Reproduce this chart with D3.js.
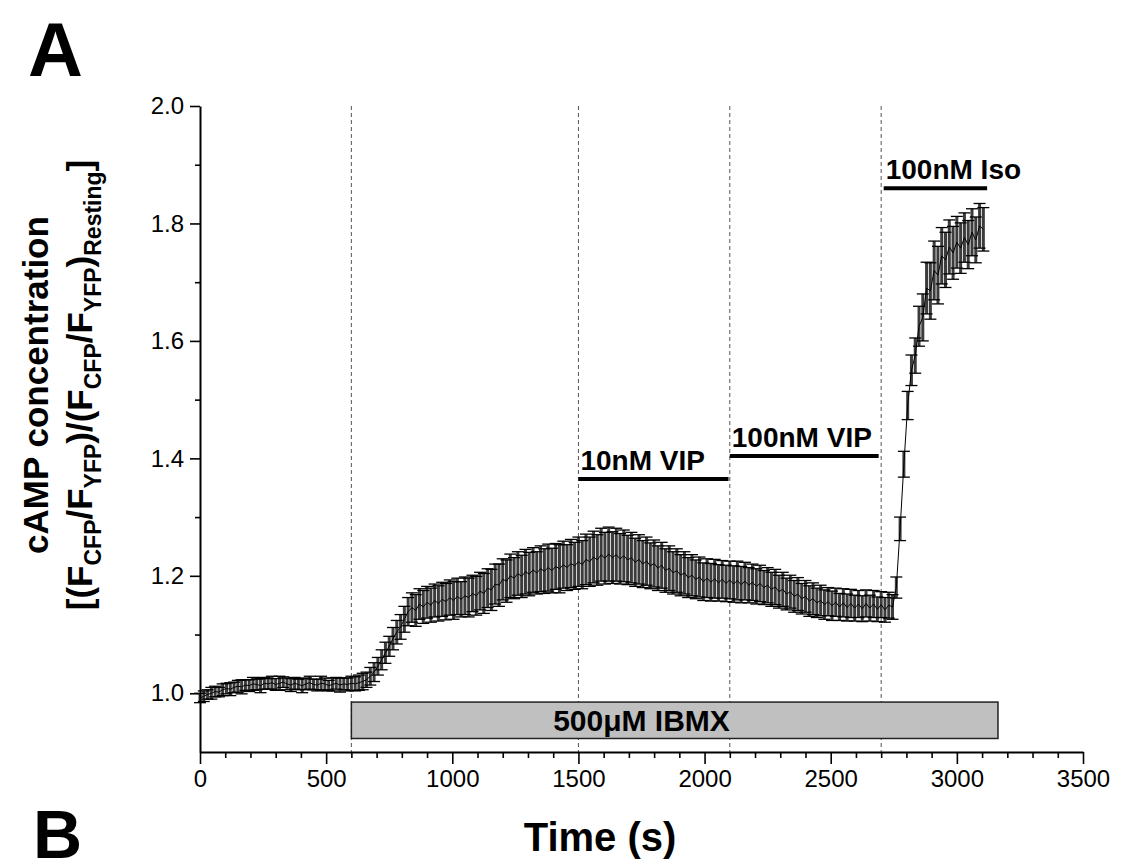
<!DOCTYPE html>
<html>
<head>
<meta charset="utf-8">
<script src="https://cdn.jsdelivr.net/npm/d3@7"></script>
<style>
  body { margin: 0; background: #fff; }
  svg text { font-family: "Liberation Sans", Arial, sans-serif; }
</style>
</head>
<body>
<div id="chart"></div>
<script>
// sampling interval of the recording (s)
var sampleStep = 15;

// mean FRET ratio, one value per sample
var meanRatio = [
  0.992,0.995,0.998,1.000,1.003,1.002,1.006,1.008,1.007,1.010,
  1.012,1.011,1.014,1.013,1.016,1.015,1.013,1.017,1.016,1.018,
  1.015,1.017,1.019,1.016,1.014,1.017,1.015,1.013,1.016,1.018,
  1.015,1.014,1.017,1.016,1.013,1.015,1.017,1.014,1.016,1.015,
  1.017,1.016,1.018,1.020,1.023,1.029,1.036,1.046,1.057,1.069,
  1.080,1.093,1.104,1.113,1.126,1.139,1.146,1.141,1.152,1.147,
  1.155,1.150,1.158,1.153,1.160,1.156,1.163,1.158,1.165,1.160,
  1.166,1.163,1.170,1.166,1.174,1.170,1.179,1.176,1.186,1.184,
  1.194,1.191,1.200,1.196,1.204,1.199,1.207,1.203,1.210,1.205,
  1.212,1.208,1.214,1.209,1.216,1.212,1.219,1.214,1.221,1.217,
  1.224,1.219,1.228,1.224,1.232,1.227,1.236,1.230,1.237,1.231,
  1.236,1.229,1.234,1.227,1.231,1.223,1.228,1.220,1.225,1.217,
  1.221,1.213,1.218,1.209,1.213,1.205,1.209,1.201,1.205,1.197,
  1.201,1.194,1.198,1.190,1.196,1.189,1.195,1.188,1.194,1.187,
  1.193,1.186,1.192,1.185,1.191,1.184,1.189,1.182,1.187,1.180,
  1.184,1.177,1.181,1.173,1.177,1.169,1.173,1.165,1.169,1.161,
  1.165,1.157,1.161,1.154,1.158,1.151,1.156,1.149,1.155,1.147,
  1.154,1.146,1.153,1.145,1.152,1.144,1.153,1.145,1.152,1.143,
  1.151,1.142,1.150,1.147,1.180,1.280,1.390,1.490,1.550,1.575,
  1.625,1.640,1.690,1.685,1.720,1.712,1.745,1.738,1.760,1.750,
  1.768,1.758,1.776,1.764,1.785,1.772,1.796,1.790
];

// standard error, one value per sample
var semRatio = [
  0.008,0.009,0.008,0.010,0.009,0.008,0.010,0.009,0.011,0.009,
  0.010,0.012,0.009,0.010,0.011,0.009,0.012,0.010,0.009,0.011,
  0.010,0.012,0.009,0.010,0.011,0.010,0.009,0.012,0.010,0.011,
  0.009,0.010,0.012,0.010,0.009,0.011,0.010,0.012,0.010,0.011,
  0.012,0.012,0.013,0.014,0.013,0.015,0.016,0.015,0.017,0.018,
  0.017,0.019,0.020,0.021,0.022,0.024,0.025,0.027,0.026,0.028,
  0.027,0.029,0.028,0.030,0.029,0.031,0.030,0.032,0.031,0.030,
  0.032,0.033,0.031,0.033,0.032,0.034,0.033,0.035,0.034,0.036,
  0.035,0.036,0.037,0.035,0.037,0.036,0.038,0.037,0.038,0.036,
  0.039,0.038,0.040,0.038,0.039,0.041,0.040,0.039,0.041,0.040,
  0.042,0.041,0.043,0.042,0.044,0.043,0.045,0.044,0.046,0.044,
  0.045,0.043,0.044,0.042,0.043,0.041,0.042,0.040,0.041,0.039,
  0.040,0.038,0.039,0.037,0.038,0.036,0.037,0.035,0.036,0.034,
  0.035,0.033,0.034,0.032,0.033,0.032,0.033,0.031,0.032,0.031,
  0.032,0.031,0.033,0.031,0.032,0.030,0.031,0.030,0.031,0.029,
  0.030,0.029,0.030,0.028,0.029,0.027,0.028,0.027,0.028,0.026,
  0.027,0.026,0.027,0.025,0.026,0.025,0.024,0.025,0.024,0.023,
  0.024,0.023,0.024,0.022,0.023,0.022,0.023,0.022,0.023,0.021,
  0.022,0.021,0.022,0.021,0.018,0.020,0.022,0.024,0.026,0.030,
  0.034,0.040,0.044,0.048,0.050,0.049,0.048,0.047,0.046,0.045,
  0.044,0.043,0.042,0.041,0.040,0.039,0.038,0.037
];

var xTicks = [0, 500, 1000, 1500, 2000, 2500, 3000, 3500];
var yTicks = [1.0, 1.2, 1.4, 1.6, 1.8, 2.0];
var markerTimes = [600, 1500, 2100, 2700];

// drug applications: label, start, end, bar level
var drugNames = ["10nM VIP", "100nM VIP", "100nM Iso"];
var drugStart = [1500, 2100, 2710];
var drugEnd = [2095, 2690, 3120];
var drugLevel = [1.365, 1.404, 1.860];

var ibmxName = "500\u03BCM IBMX";
var ibmxSpan = [600, 3163];
var ibmxRange = [0.923, 0.985];

var W = 1121, H = 865;
var svg = d3.select("#chart").append("svg")
  .attr("width", W)
  .attr("height", H);

var x = d3.scaleLinear().domain([0, 3500]).range([200, 1083]);
var y = d3.scaleLinear().domain([0.9, 2.0]).range([752, 106]);

var data = meanRatio.map(function(m, i) {
  return {t: i * sampleStep, m: m, e: semRatio[i]};
});

// dashed markers
svg.append("g").selectAll("line")
  .data(markerTimes)
  .enter().append("line")
  .attr("x1", function(d) { return x(d); })
  .attr("x2", function(d) { return x(d); })
  .attr("y1", y(2.0))
  .attr("y2", y(0.9))
  .attr("stroke", "#555")
  .attr("stroke-width", 1)
  .attr("stroke-dasharray", "4,3");

// IBMX box
svg.append("rect")
  .attr("x", x(ibmxSpan[0]))
  .attr("y", y(ibmxRange[1]))
  .attr("width", x(ibmxSpan[1]) - x(ibmxSpan[0]))
  .attr("height", y(ibmxRange[0]) - y(ibmxRange[1]))
  .attr("fill", "#c0c0c0")
  .attr("stroke", "#222")
  .attr("stroke-width", 1.5);

svg.append("text")
  .attr("x", x(1750))
  .attr("y", y((ibmxRange[0] + ibmxRange[1]) / 2) + 11)
  .attr("text-anchor", "middle")
  .attr("font-size", 30)
  .attr("font-weight", "bold")
  .text(ibmxName);

// error bars
var eb = svg.append("g");
eb.selectAll("line.stem")
  .data(data)
  .enter().append("line")
  .attr("class", "stem")
  .attr("x1", function(d) { return x(d.t); })
  .attr("x2", function(d) { return x(d.t); })
  .attr("y1", function(d) { return y(d.m - d.e); })
  .attr("y2", function(d) { return y(d.m + d.e); })
  .attr("stroke", "#3c3c3c")
  .attr("stroke-width", 3);

var caps = [];
data.forEach(function(d) { caps.push({t: d.t, v: d.m + d.e}); caps.push({t: d.t, v: d.m - d.e}); });
eb.selectAll("line.cap")
  .data(caps)
  .enter().append("line")
  .attr("class", "cap")
  .attr("x1", function(d) { return x(d.t) - 6; })
  .attr("x2", function(d) { return x(d.t) + 6; })
  .attr("y1", function(d) { return y(d.v); })
  .attr("y2", function(d) { return y(d.v); })
  .attr("stroke", "#000")
  .attr("stroke-width", 1.3);

svg.append("path")
  .datum(data)
  .attr("fill", "none")
  .attr("stroke", "#000")
  .attr("stroke-width", 1)
  .attr("d", d3.line().x(function(d) { return x(d.t); }).y(function(d) { return y(d.m); }));

// drug bars
drugNames.forEach(function(name, i) {
  svg.append("line")
    .attr("x1", x(drugStart[i]))
    .attr("x2", x(drugEnd[i]))
    .attr("y1", y(drugLevel[i]))
    .attr("y2", y(drugLevel[i]))
    .attr("stroke", "#000")
    .attr("stroke-width", 4);
  svg.append("text")
    .attr("x", x(drugStart[i]) + 2)
    .attr("y", y(drugLevel[i]) - 9)
    .attr("font-size", 28)
    .attr("font-weight", "bold")
    .text(name);
});

// axes
var yAxis = svg.append("g")
  .attr("transform", "translate(" + x(0) + ",0)")
  .call(d3.axisLeft(y).tickValues(yTicks).tickFormat(d3.format(".1f")).tickSize(10).tickSizeOuter(0).tickPadding(6));
svg.append("g")
  .attr("transform", "translate(" + x(0) + ",0)")
  .call(d3.axisLeft(y).tickValues([1.1, 1.3, 1.5, 1.7, 1.9]).tickFormat("").tickSize(5).tickSizeOuter(0))
  .select(".domain").remove();

var xMinor = [];
for (var k = 0; k <= 3500; k += 100) if (k % 500 !== 0) xMinor.push(k);
var xAxis = svg.append("g")
  .attr("transform", "translate(0," + y(0.9) + ")")
  .call(d3.axisBottom(x).tickValues(xTicks).tickFormat(d3.format("d")).tickSize(12).tickSizeOuter(0).tickPadding(6));
svg.append("g")
  .attr("transform", "translate(0," + y(0.9) + ")")
  .call(d3.axisBottom(x).tickValues(xMinor).tickFormat("").tickSize(6).tickSizeOuter(0))
  .select(".domain").remove();

svg.selectAll(".domain").attr("stroke-width", 2);
svg.selectAll(".tick line").attr("stroke-width", 1.6);
yAxis.selectAll("text").attr("font-size", 24).attr("font-family", "Liberation Sans, Arial, sans-serif");
xAxis.selectAll("text").attr("font-size", 24).attr("font-family", "Liberation Sans, Arial, sans-serif");

// axis titles
svg.append("text")
  .attr("x", 600)
  .attr("y", 851)
  .attr("text-anchor", "middle")
  .attr("font-size", 40)
  .attr("font-weight", "bold")
  .text("Time (s)");

var yl = svg.append("g").attr("transform", "translate(48,385) rotate(-90)");
yl.append("text")
  .attr("text-anchor", "middle")
  .attr("font-size", 35)
  .attr("font-weight", "bold")
  .text("cAMP concentration");

var t2 = yl.append("text")
  .attr("y", 44)
  .attr("text-anchor", "middle")
  .attr("font-size", 35)
  .attr("font-weight", "bold");
var parts = [["[(F", 0], ["CFP", 1], ["/F", 0], ["YFP", 1], [")/(F", 0], ["CFP", 1], ["/F", 0], ["YFP", 1], [")", 0], ["Resting", 1], ["]", 0]];
var prevSub = 0;
parts.forEach(function(p) {
  var s = t2.append("tspan").text(p[0]);
  if (p[1] === 1) { s.attr("font-size", 23).attr("dy", prevSub ? 0 : 9); }
  else { s.attr("dy", prevSub ? -9 : 0); }
  prevSub = p[1];
});

// panel letters
svg.append("text").attr("x", 28).attr("y", 76).attr("font-size", 76).attr("font-weight", "bold").text("A");
svg.append("text").attr("x", 33).attr("y", 858).attr("font-size", 68).attr("font-weight", "bold").text("B");
</script>
</body>
</html>
